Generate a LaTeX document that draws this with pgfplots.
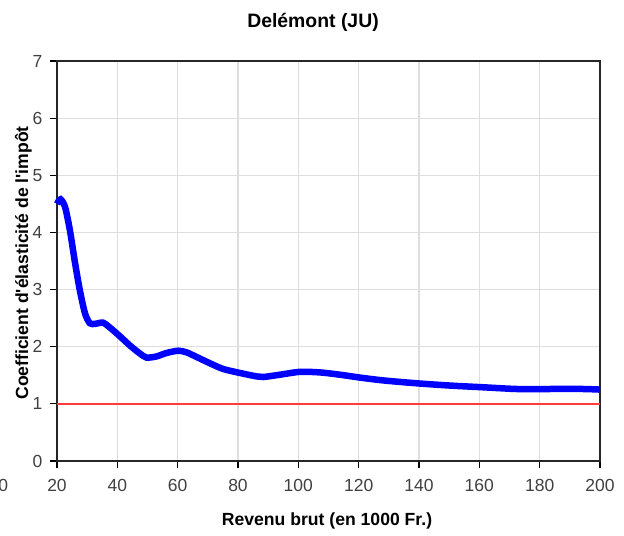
\documentclass[border=0pt]{standalone}
\usepackage{pgfplots}
\pgfplotsset{compat=1.18}
\usepackage{fontspec}
\setmainfont{Liberation Sans}[Ligatures=TeXOff]
\definecolor{curveblue}{RGB}{0,0,255}
\definecolor{redline}{RGB}{255,60,60}
\begin{document}
\begin{tikzpicture}
\useasboundingbox (0bp,0bp) rectangle (624bp,536bp);
\begin{axis}[
  at={(57bp,75bp)}, anchor=south west,
  scale only axis, width=543bp, height=400bp,
  xmin=20, xmax=200, ymin=0, ymax=7,
  xtick={20,40,...,200}, ytick={0,1,...,7},
  grid=major, major grid style={line width=1.2bp, color=black!13},
  axis line style={line width=1.3bp, black!85},
  tick align=outside, major tick length=7bp,
  tick style={line width=1.2bp, black},
  xtick pos=left, ytick pos=left,
  ticklabel style={font=\fontsize{17.5bp}{20bp}\selectfont, text=black!75},
  /pgf/number format/assume math mode=true,
  xticklabel style={anchor=base, inner sep=0pt, yshift=-23.5bp},
  yticklabel style={anchor=east, inner sep=0pt, xshift=-7.5bp},
  clip=false,
]
\addplot[redline, line width=1.5bp] coordinates {(20,1) (200,1)};
\addplot[curveblue, line width=6.5bp, smooth, tension=0.45] coordinates {
(20,4.50) (21.2,4.58) (22.7,4.44) (24.3,4.03) (26,3.46) (27.6,2.98) (29.3,2.58)
(30.9,2.41) (32.6,2.40) (35.3,2.42) (38.1,2.31) (40.9,2.18) (44.2,2.02)
(47.5,1.88) (49.7,1.81) (53,1.83) (56.3,1.89) (60.2,1.93) (63,1.90) (66.3,1.82)
(70.7,1.71) (75.1,1.61) (80.7,1.54) (86.2,1.48) (88.4,1.47) (93.9,1.51)
(100.5,1.56) (107.2,1.55) (113.8,1.51) (120.4,1.46) (128.2,1.41) (139.2,1.36)
(150.3,1.32) (161.3,1.29) (172.4,1.26) (183.4,1.26) (194.4,1.26) (200,1.25)
};
\end{axis}
\node[anchor=base, font=\bfseries\fontsize{19.4bp}{22bp}\selectfont] at (313bp,508bp) {Delémont (JU)};
\node[anchor=base, font=\bfseries\fontsize{17.6bp}{20bp}\selectfont] at (327bp,11bp) {Revenu brut (en 1000 Fr.)};
\node[rotate=90, anchor=base, font=\bfseries\fontsize{17.6bp}{20bp}\selectfont] at (28bp,273bp) {Coefficient d'élasticité de l'impôt};
\node[anchor=base, inner sep=0pt, font=\fontsize{17.5bp}{20bp}\selectfont, text=black!75] at (3.3bp,44.5bp) {0};
\end{tikzpicture}
\end{document}
